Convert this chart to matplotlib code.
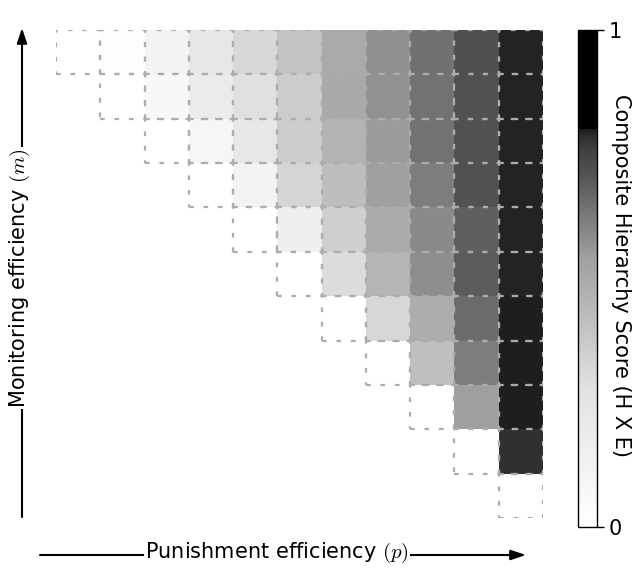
import numpy as np
import matplotlib
matplotlib.use("Agg")
import matplotlib.pyplot as plt
from matplotlib.colors import LinearSegmentedColormap
from matplotlib.patches import Rectangle
from matplotlib.cm import ScalarMappable
from matplotlib.colors import Normalize

plt.rcParams['font.family'] = ['DejaVu Sans']
plt.rcParams['mathtext.fontset'] = 'cm'

# Composite hierarchy score; rows listed from highest m (top) to lowest m (bottom),
# columns = punishment efficiency index 0..10. None = outside the triangle.
N = 11
rows = [
    [0.0, 0.02, 0.11, 0.23, 0.32, 0.40, 0.50, 0.578, 0.648, 0.722, 0.793],
    [None, 0.0, 0.067, 0.19, 0.284, 0.364, 0.504, 0.574, 0.641, 0.717, 0.794],
    [None, None, 0.0, 0.086, 0.234, 0.36, 0.464, 0.547, 0.641, 0.717, 0.795],
    [None, None, None, 0.0, 0.114, 0.332, 0.424, 0.54, 0.62, 0.717, 0.795],
    [None, None, None, None, 0.0, 0.152, 0.352, 0.496, 0.587, 0.686, 0.795],
    [None, None, None, None, None, 0.0, 0.30, 0.456, 0.58, 0.693, 0.796],
    [None, None, None, None, None, None, 0.0, 0.324, 0.488, 0.659, 0.799],
    [None, None, None, None, None, None, None, 0.0, 0.416, 0.619, 0.799],
    [None, None, None, None, None, None, None, None, 0.0, 0.54, 0.799],
    [None, None, None, None, None, None, None, None, None, 0.0, 0.782],
    [None, None, None, None, None, None, None, None, None, None, 0.0],
]

cbar_label = "Composite Hierarchy Score (H X E)"
xlabel = r"Punishment efficiency $(p)$"
ylabel = r"Monitoring efficiency $(m)$"

def g(v):
    return (v / 255.0, v / 255.0, v / 255.0)

cmap = LinearSegmentedColormap.from_list(
    "hier",
    [(0.0, g(255)), (0.276, g(226)), (0.54, g(160)), (0.78, g(53)),
     (0.80, g(30)), (0.802, g(0)), (1.0, g(0))])
norm = Normalize(0, 1)

W, H = 632, 572
fig = plt.figure(figsize=(W / 100, H / 100), dpi=100)

def fx(px):
    return px / W

def fy(py):
    return 1 - py / H

ax = fig.add_axes([fx(56), fy(518), fx(543) - fx(56), fy(30) - fy(518)])
ax.set_xlim(0, N)
ax.set_ylim(0, N)
ax.axis('off')

lw = 1.6
for r, row in enumerate(rows):
    y = N - 1 - r
    for c, val in enumerate(row):
        if val is None:
            continue
        ax.add_patch(Rectangle((c, y), 1, 1, facecolor=cmap(norm(val)),
                               edgecolor='none', zorder=1))
for r, row in enumerate(rows):
    y = N - 1 - r
    for c, val in enumerate(row):
        if val is None:
            continue
        ax.add_patch(Rectangle((c, y), 1, 1, facecolor='none',
                               edgecolor='#acacac', lw=lw,
                               linestyle=(0, (3.4 / lw, 7.0 / lw)), zorder=2))

FS = 15
# colorbar
cax = fig.add_axes([fx(578), fy(527), fx(597) - fx(578), fy(30) - fy(527)])
sm = ScalarMappable(norm=norm, cmap=cmap)
cb = fig.colorbar(sm, cax=cax, ticks=[0, 1])
cb.ax.set_yticklabels(['0', '1'])
cb.ax.tick_params(labelsize=FS, length=5, width=1)
cb.outline.set_linewidth(1)
fig.text(fx(621), fy(275), cbar_label, rotation=270, ha='center', va='center',
         fontsize=FS)

# overlay for arrow labels
ov = fig.add_axes([0, 0, 1, 1], zorder=-1)
ov.set_xlim(0, W)
ov.set_ylim(H, 0)
ov.axis('off')
aprops = dict(arrowstyle='-|>,head_length=0.9,head_width=0.3', color='black',
              lw=1.5, shrinkA=0, shrinkB=0)
ov.annotate('', xy=(526, 555), xytext=(40, 555), arrowprops=aprops)
ov.text(277, 553, xlabel, ha='center', va='center', fontsize=FS,
        bbox=dict(facecolor='white', edgecolor='none', pad=1.0))
ov.annotate('', xy=(22, 28), xytext=(22, 517), arrowprops=aprops)
ov.text(20, 278, ylabel, ha='center', va='center', rotation=90, fontsize=FS,
        bbox=dict(facecolor='white', edgecolor='none', pad=1.0))

fig.savefig('out.png', dpi=100)
